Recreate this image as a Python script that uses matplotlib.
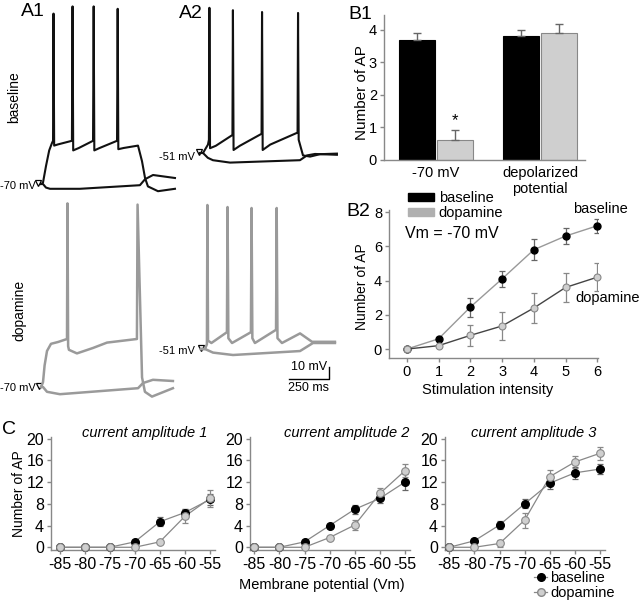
import numpy as np
import matplotlib
matplotlib.use('Agg')
import matplotlib.pyplot as plt
from matplotlib.patches import Patch
from matplotlib.lines import Line2D

plt.rcParams['font.family'] = ['Liberation Sans', 'DejaVu Sans']
plt.rcParams['axes.unicode_minus'] = False

# ---------- A: example traces, time in ms from step onset, voltage in mV ----------
a1_base_dep_t = [-6, 6, 25, 45, 62, 69, 72, 76, 100, 187, 191, 195, 230, 319, 323, 327, 360,
                 469, 473, 477, 510, 600, 625, 644, 662, 725, 831]
a1_base_dep_v = [-70, -69, -55, -42, -36, -34, 72, -38, -37, -34, 78, -42, -40, -34, 78, -42, -40,
                 -34, 76, -41, -40, -38, -51, -65, -72, -76, -74]
a1_base_hyp_t = [-6, 6, 25, 50, 237, 612, 644, 694, 831]
a1_base_hyp_v = [-70, -70, -73, -74, -74, -71, -66, -62.5, -65]

a2_base_dep_t = [-19, 0, 31, 37, 40, 44, 80, 184, 187, 191, 230, 366, 369, 373, 420,
                 591, 594, 598, 625, 669, 731, 837]
a2_base_dep_v = [-51, -51, -44, -40, 70, -47, -45, -36, 68, -48.5, -45, -35, 66.5, -48.5, -44,
                 -34, 65.7, -40, -53, -54, -52, -51.5]
a2_base_hyp_t = [-19, 0, 30, 62, 169, 606, 650, 700, 837]
a2_base_hyp_v = [-51, -51, -55, -57, -59, -57, -53, -51.8, -52.5]

a1_dopa_dep_t = [-12, 0, 10, 25, 50, 94, 150, 153, 157, 162, 212, 312, 400, 587, 591, 619, 637, 681, 812]
a1_dopa_dep_v = [-70, -66, -52, -40, -34, -32.5, -30, 83, -36, -39, -42, -37.5, -33, -30, 82, -62, -74, -78, -71]
a1_dopa_hyp_t = [-12, 0, 25, 106, 594, 625, 687, 812]
a1_dopa_hyp_v = [-70, -70, -74, -76, -71, -66.7, -64, -65]

a2_dopa_dep_t = [-25, 0, 12, 15, 19, 40, 137, 141, 146, 169, 287, 291, 296, 312, 444, 448, 453,
                 481, 594, 669, 812]
a2_dopa_dep_v = [-51, -51, -47, 69, -44, -46, -37, 67.3, -42, -46, -37, 66.5, -42, -46, -35, 66.5, -42,
                 -46, -38, -45, -45]
a2_dopa_hyp_t = [-25, 0, 50, 175, 594, 675, 812]
a2_dopa_hyp_v = [-51, -51, -54, -56, -52.7, -46, -46]

# ---------- B1 ----------
b1_groups = ['-70 mV', 'depolarized\npotential']
b1_base = [3.7, 3.8]
b1_base_err = [0.2, 0.2]
b1_dopa = [0.63, 3.9]
b1_dopa_err = [0.3, 0.27]

# ---------- B2 ----------
b2_intensity = [0, 1, 2, 3, 4, 5, 6]
b2_base = [0, 0.6, 2.45, 4.1, 5.8, 6.6, 7.2]
b2_base_err = [0, 0.1, 0.55, 0.45, 0.6, 0.45, 0.4]
b2_dopa = [0, 0.2, 0.8, 1.35, 2.4, 3.6, 4.2]
b2_dopa_err = [0, 0.05, 0.6, 0.8, 0.85, 0.85, 0.8]

# ---------- C ----------
c_vm = [-85, -80, -75, -70, -65, -60, -55]
c_titles = ['current amplitude 1', 'current amplitude 2', 'current amplitude 3']
c_base = [[0, 0, 0, 1.0, 4.7, 6.4, 8.8],
          [0, 0, 1.0, 4.0, 7.0, 9.0, 12.0],
          [0, 1.2, 4.1, 8.0, 11.8, 13.7, 14.4]]
c_base_err = [[0, 0, 0, 0.2, 0.8, 0.6, 1.0],
              [0, 0, 0.2, 0.3, 0.8, 0.8, 1.5],
              [0, 0.2, 0.7, 0.8, 1.0, 1.1, 0.9]]
c_dopa = [[0, 0, 0, 0, 1.0, 5.7, 9.0],
          [0, 0, 0, 1.8, 4.1, 9.9, 14.1],
          [0, 0, 0.7, 5.0, 13.0, 15.7, 17.3]]
c_dopa_err = [[0, 0, 0, 0, 0.2, 1.3, 1.6],
              [0, 0, 0, 0.2, 1.0, 1.0, 1.2],
              [0, 0, 0.6, 1.4, 1.2, 1.1, 1.2]]

W, H = 640, 600
MS_PER_PX = 6.25
PX_PER_MV = 1.2
BASE_COL = '#111111'
DOPA_COL = '#9a9a9a'
GREY_FILL = '#cfcfcf'

fig = plt.figure(figsize=(6.4, 6.0), dpi=100)


def px_axes(x0, y0, x1, y1):
    return fig.add_axes([x0 / W, 1 - y1 / H, (x1 - x0) / W, (y1 - y0) / H])


def ftext(x, y, s, **kw):
    fig.text(x / W, 1 - y / H, s, **kw)


def trace_axes(x0, x1, y0, y1, onset, rest, vrest):
    ax = px_axes(x0, y0, x1, y1)
    ax.set_xlim((x0 - onset) * MS_PER_PX, (x1 - onset) * MS_PER_PX)
    ax.set_ylim(vrest + (rest - y1) / PX_PER_MV, vrest + (rest - y0) / PX_PER_MV)
    ax.axis('off')
    # resting-potential marker
    ax.plot([-4 * MS_PER_PX], [vrest + 1 / PX_PER_MV], 'v', ms=5,
            mfc='white', mec='black', mew=0.9, clip_on=False)
    return ax


def style(ax, size):
    for s in ['top', 'right']:
        ax.spines[s].set_visible(False)
    for s in ['left', 'bottom']:
        ax.spines[s].set_color('#888888')
        ax.spines[s].set_linewidth(1)
    ax.tick_params(color='#888888', length=3, width=1, labelsize=size, pad=2)


# ---------- A panels ----------
ax = trace_axes(40, 180, 0, 200, 42, 184, -70)
ax.plot(a1_base_dep_t, a1_base_dep_v, color=BASE_COL, lw=1.5)
ax.plot(a1_base_hyp_t, a1_base_hyp_v, color=BASE_COL, lw=1.5)

ax = trace_axes(196, 340, 0, 200, 203, 153, -51)
ax.plot(a2_base_dep_t, a2_base_dep_v, color=BASE_COL, lw=1.5)
ax.plot(a2_base_hyp_t, a2_base_hyp_v, color=BASE_COL, lw=1.5)

ax = trace_axes(36, 180, 198, 405, 43, 387, -70)
ax.plot(a1_dopa_dep_t, a1_dopa_dep_v, color=DOPA_COL, lw=1.8)
ax.plot(a1_dopa_hyp_t, a1_dopa_hyp_v, color=DOPA_COL, lw=1.8)

ax = trace_axes(196, 340, 198, 405, 205, 349, -51)
ax.plot(a2_dopa_dep_t, a2_dopa_dep_v, color=DOPA_COL, lw=1.8)
ax.plot(a2_dopa_hyp_t, a2_dopa_hyp_v, color=DOPA_COL, lw=1.8)
# scale bar: 10 mV / 250 ms
bx, by = 775, -76
ax.plot([bx - 250, bx, bx], [by, by, by + 10], color='black', lw=1, clip_on=False)

ftext(309, 373, '10 mV', ha='center', va='bottom', fontsize=9)
ftext(309, 382, '250 ms', ha='center', va='top', fontsize=9)

ftext(36, 186, '-70 mV', ha='right', va='center', fontsize=8)
ftext(36, 388, '-70 mV', ha='right', va='center', fontsize=8)
ftext(195, 157, '-51 mV', ha='right', va='center', fontsize=8)
ftext(195, 351, '-51 mV', ha='right', va='center', fontsize=8)
ftext(14, 97, 'baseline', rotation=90, ha='center', va='center', fontsize=10)
ftext(19, 310, 'dopamine', rotation=90, ha='center', va='center', fontsize=10)

ftext(21, 16, 'A1', fontsize=14)
ftext(179, 18, 'A2', fontsize=14)
ftext(348, 19, 'B1', fontsize=14)
ftext(346, 216, 'B2', fontsize=14)
ftext(2, 434, 'C', fontsize=14)

# ---------- B1 ----------
ax = px_axes(384, 15, 585, 160)
xg = np.arange(len(b1_groups))
off, bw = 0.184, 0.345
ax.bar(xg - off, b1_base, bw, color='black', edgecolor='black', lw=0.8)
ax.bar(xg + off, b1_dopa, bw, color=GREY_FILL, edgecolor='#888888', lw=0.8)
ax.errorbar(xg - off, b1_base, yerr=[np.zeros(2), b1_base_err], fmt='none', ecolor='#666666',
            elinewidth=1, capsize=3, capthick=1)
ax.errorbar(xg + off, b1_dopa, yerr=[np.zeros(2), b1_dopa_err], fmt='none', ecolor='#666666',
            elinewidth=1, capsize=3, capthick=1)
ax.text(xg[0] + off, b1_dopa[0] + b1_dopa_err[0] + 0.05, '*', ha='center', va='bottom', fontsize=12)
ax.set_xlim(-0.5, 1.43)
ax.set_ylim(0, 4.46)
ax.set_xticks(xg)
ax.set_xticklabels(b1_groups)
ax.set_yticks([0, 1, 2, 3, 4])
style(ax, 10.5)
ax.tick_params(axis='x', length=0, pad=4)
ftext(362, 93, 'Number of AP', rotation=90, ha='center', va='center', fontsize=11)

# ---------- B2 ----------
ax = px_axes(389, 210, 598, 358)
ax.plot(b2_intensity, b2_base, color='#999999', lw=1, zorder=2)
ax.plot(b2_intensity, b2_dopa, color='#444444', lw=1, zorder=2)
ax.errorbar(b2_intensity, b2_base, yerr=b2_base_err, fmt='none', ecolor='#666666',
            elinewidth=0.9, capsize=2, capthick=0.9, zorder=3)
ax.errorbar(b2_intensity, b2_dopa, yerr=b2_dopa_err, fmt='none', ecolor='#888888',
            elinewidth=0.9, capsize=2, capthick=0.9, zorder=3)
ax.plot(b2_intensity, b2_base, 'o', ms=5, mfc='black', mec='black', zorder=4, clip_on=False)
ax.plot(b2_intensity, b2_dopa, 'o', ms=5, mfc=GREY_FILL, mec='#888888', mew=0.8, zorder=4,
        clip_on=False)
ax.set_xlim(-0.56, 6.02)
ax.set_ylim(-0.52, 8.12)
ax.set_xticks(b2_intensity)
ax.set_yticks([0, 2, 4, 6, 8])
style(ax, 10.5)
ftext(362, 287, 'Number of AP', rotation=90, ha='center', va='center', fontsize=10)
ftext(488, 390, 'Stimulation intensity', ha='center', va='center', fontsize=10.5)
ftext(452, 233, 'Vm = -70 mV', ha='center', va='center', fontsize=11.5)
ftext(600, 209, 'baseline', ha='center', va='center', fontsize=10.5)
ftext(608, 298, 'dopamine', ha='center', va='center', fontsize=10.5)
fig.legend([Patch(facecolor='black', edgecolor='black'), Patch(facecolor='#b0b0b0', edgecolor='#b0b0b0')],
           ['baseline', 'dopamine'], loc='upper left', bbox_to_anchor=(408 / W, 1 - 191 / H),
           frameon=False, fontsize=10.5, handlelength=1.8, handleheight=0.5, handletextpad=0.3,
           labelspacing=0.1, borderpad=0, borderaxespad=0)

# ---------- C ----------
c_boxes = [(51, 215, -86.7), (250, 410, -85.86), (445, 605, -85.86)]
c_title_x = [145, 347, 534]
for i, (x0, x1, xmin) in enumerate(c_boxes):
    ax = px_axes(x0, 437, x1, 550)
    ax.plot(c_vm, c_base[i], color='#888888', lw=0.9, zorder=2)
    ax.plot(c_vm, c_dopa[i], color='#888888', lw=0.9, zorder=2)
    ax.errorbar(c_vm, c_base[i], yerr=c_base_err[i], fmt='none', ecolor='#666666',
                elinewidth=0.9, capsize=2, capthick=0.9, zorder=3)
    ax.errorbar(c_vm, c_dopa[i], yerr=c_dopa_err[i], fmt='none', ecolor='#888888',
                elinewidth=0.9, capsize=2, capthick=0.9, zorder=3)
    ax.plot(c_vm, c_base[i], 'o', ms=5.5, mfc='black', mec='black', zorder=4, clip_on=False)
    ax.plot(c_vm, c_dopa[i], 'o', ms=5.5, mfc=GREY_FILL, mec='#888888', mew=0.8, zorder=5,
            clip_on=False)
    ax.set_xlim(xmin, -54.0)
    ax.set_ylim(-0.5, 20.3)
    ax.set_xticks(c_vm)
    ax.set_yticks([0, 4, 8, 12, 16, 20])
    style(ax, 11.5)
    ftext(c_title_x[i], 433, c_titles[i], ha='center', va='center', fontsize=10.5, style='italic')

ftext(19, 494, 'Number of AP', rotation=90, ha='center', va='center', fontsize=10)
ftext(322, 585, 'Membrane potential (Vm)', ha='center', va='center', fontsize=10.5)
fig.legend([Line2D([0], [0], color='#888888', lw=0.9, marker='o', ms=5.5, mfc='black', mec='black'),
            Line2D([0], [0], color='#888888', lw=0.9, marker='o', ms=5.5, mfc=GREY_FILL, mec='#888888')],
           ['baseline', 'dopamine'], loc='upper left', bbox_to_anchor=(534 / W, 1 - 571 / H),
           frameon=False, fontsize=10.5, handlelength=0.9, handletextpad=0.2,
           labelspacing=0.05, borderpad=0, borderaxespad=0)

fig.savefig('out.png', dpi=100)
